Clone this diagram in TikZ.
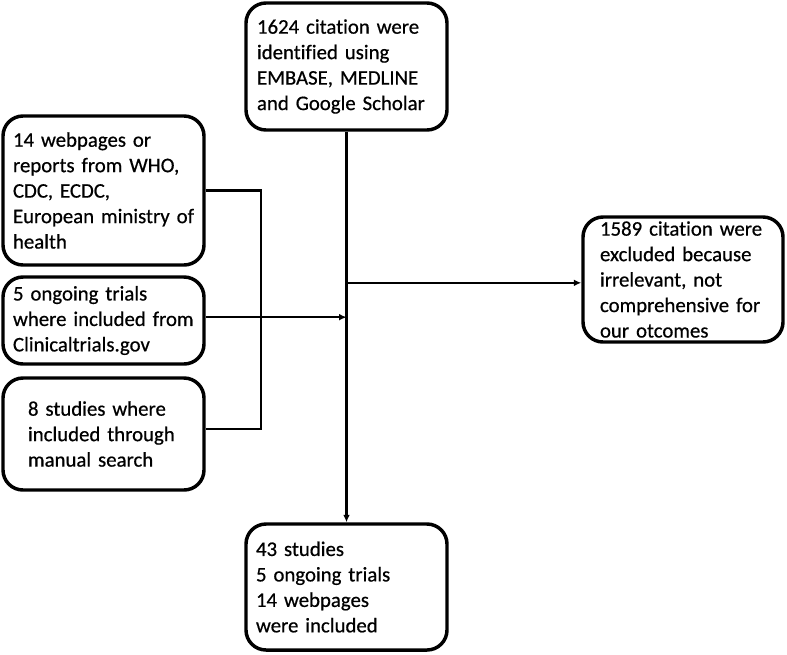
\documentclass[tikz,border=0pt]{standalone}
\usepackage{fontspec}
\setmainfont{Carlito}[Ligatures=NoCommon, FakeBold=0.6]
\usetikzlibrary{arrows.meta}

\tikzset{
  box/.style={draw, line width=2.6pt, rounded corners=15pt, align=left, inner ysep=2pt,
    font=\fontsize{15.6}{19.1}\selectfont},
  conn/.style={line width=1.7pt},
  arr/.style={conn, -{Latex[length=5.5pt,width=5pt]}}
}

\begin{document}
\begin{tikzpicture}[x=0.75pt,y=-0.75pt]
\useasboundingbox (0,0) rectangle (787,654);

% middle column
\node[box, inner xsep=8.25pt, text width=134.25pt, minimum height=95.25pt] (src) at (346.5,66.5)
  {1624 citation were\\identified using\\EMBASE, MEDLINE\\and Google Scholar};
\node[box, inner xsep=7.5pt, text width=135.75pt, minimum height=94.5pt] (incl) at (346.5,587)
  {43 studies\\5 ongoing trials\\14 webpages\\were included};

% left column
\node[box, inner xsep=7.5pt, text width=135.75pt, minimum height=111.75pt] (web) at (103.5,190.5)
  {14 webpages or\\\mbox{reports from WHO,}\\CDC, ECDC,\\\mbox{European ministry of}\\health};
\node[box, inner xsep=7.5pt, text width=135.75pt, minimum height=65.25pt] (trials) at (103.5,320.5)
  {5 ongoing trials\\\mbox{where included from}\\Clinicaltrials.gov};
\node[box, inner xsep=18.75pt, text width=113.25pt, minimum height=84pt] (manual) at (103.5,434)
  {8 studies where\\\mbox{included through}\\manual search};

% right
\node[box, inner xsep=12.75pt, text width=124.5pt, minimum height=93.75pt] (excl) at (683,279.5)
  {\mbox{1589 citation were}\\\mbox{excluded because}\\irrelevant, not\\\mbox{comprehensive for}\\our otcomes};

\coordinate (split) at ([yshift=-2.5pt]src.south |- excl.west);

\draw[arr] (src) -- (incl);
\draw[arr] (split) -- (split -| excl.west);
\draw[arr] ([yshift=2.5pt]trials.east) -- ([yshift=2.5pt]trials.east -| src.south);
\draw[conn] (web.east) -- ++(55,0) |- ([yshift=3.5pt]manual.east);
\end{tikzpicture}
\end{document}
